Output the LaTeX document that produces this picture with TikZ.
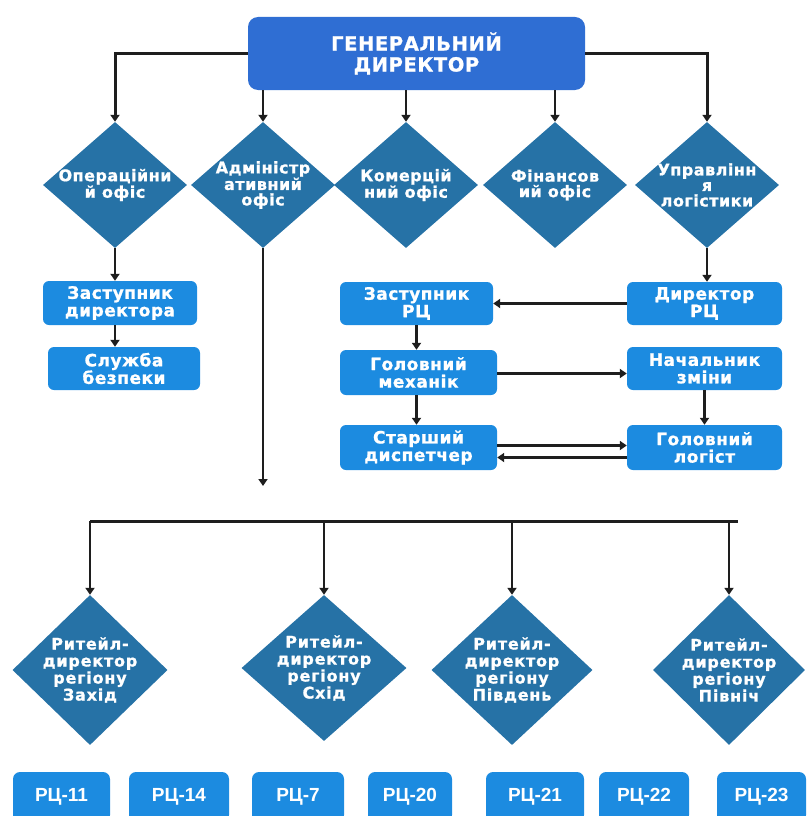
\documentclass[tikz,border=0pt]{standalone}
\usepackage{fontspec}
\setmainfont{DejaVu Sans}
\newfontfamily\rcfont{Liberation Sans}
\usetikzlibrary{arrows.meta,shapes.geometric}

\definecolor{topblue}{HTML}{2F6ED3}
\definecolor{boxblue}{HTML}{1C8BE0}
\definecolor{dmdblue}{HTML}{2672A6}
\definecolor{linegray}{HTML}{1E1E1E}

\begin{document}
\begin{tikzpicture}[x=1pt, y=-1pt,
    box/.style={rectangle, rounded corners=6pt, fill=boxblue, text=white, align=center, inner sep=0pt,
      font=\bfseries\fontsize{17}{17.5}\selectfont\addfontfeatures{LetterSpace=3,FakeBold=1}},
    dmd/.style={diamond, fill=dmdblue, inner sep=0pt, minimum width=144pt, minimum height=126pt},
    dtxt/.style={text=white, align=center, inner sep=0pt,
      font=\bfseries\fontsize{16}{15.5}\selectfont\addfontfeatures{LetterSpace=3,FakeBold=1}},
    btxt/.style={dtxt, font=\bfseries\fontsize{16}{17}\selectfont\addfontfeatures{LetterSpace=5,FakeBold=1}},
    rc/.style={rectangle, rounded corners=7pt, fill=boxblue, text=white, minimum height=50pt, inner sep=0pt,
      font=\rcfont\bfseries\fontsize{19}{19}\selectfont},
    arr/.style={-{Triangle[length=7pt,width=9pt]}, line width=2.5pt, draw=linegray}]
  \clip (0,0) rectangle (806,816);

  \node[rectangle, rounded corners=10pt, fill=topblue, text=white, align=center, minimum width=337pt,
    minimum height=73pt, font=\bfseries\fontsize{19.5}{21}\selectfont\addfontfeatures{LetterSpace=3,FakeBold=1}]
    (gd) at (416.5,53.5) {ГЕНЕРАЛЬНИЙ\\ДИРЕКТОР};

  \node[dmd, label={[dtxt]center:{Операційни\\й офіс}}] (ops) at (115,185) {};
  \node[dmd, label={[dtxt]center:{Адміністр\\ативний\\офіс}}] (adm) at (263,185) {};
  \node[dmd, label={[dtxt]center:{Комерцій\\ний офіс}}] (com) at (406,185) {};
  \node[dmd, label={[dtxt]center:{Фінансов\\ий офіс}}] (fin) at (555,185) {};
  \node[dmd, label={[dtxt]center:{Управлінн\\я\\логістики}}] (lgs) at (707,185) {};

  \node[box, minimum width=154pt, minimum height=44pt] (zdir) at (120,303) {Заступник\\директора};
  \node[box, minimum width=152pt, minimum height=43pt] (sb) at (124,368.5) {Служба\\безпеки};

  \node[box, minimum width=153pt, minimum height=43pt] (zrc) at (416.5,303.5) {Заступник\\РЦ};
  \node[box, minimum width=155pt, minimum height=43pt] (drc) at (704.5,303.5) {Директор\\РЦ};
  \node[box, minimum width=157pt, minimum height=45pt] (gm) at (418.5,372.5) {Головний\\механік};
  \node[box, minimum width=155pt, minimum height=43pt] (nz) at (704.5,368.5) {Начальник\\зміни};
  \node[box, minimum width=157pt, minimum height=45pt] (sd) at (418.5,447.5) {Старший\\диспетчер};
  \node[box, minimum width=155pt, minimum height=45pt] (gl) at (704.5,447.5) {Головний\\логіст};

  \node[dmd, minimum width=155pt, minimum height=150pt, label={[btxt]center:{Ритейл-\\директор\\регіону\\Захід}}] (rw) at (90,670) {};
  \node[dmd, minimum width=165pt, minimum height=146pt, label={[btxt]center:{Ритейл-\\директор\\регіону\\Схід}}] (re) at (324,668) {};
  \node[dmd, minimum width=161pt, minimum height=150pt, label={[btxt]center:{Ритейл-\\директор\\регіону\\Південь}}] (rs) at (512,670) {};
  \node[dmd, minimum width=152pt, minimum height=150pt, label={[btxt]center:{Ритейл-\\директор\\регіону\\Північ}}] (rn) at (729,670) {};

  \node[rc, minimum width=97pt] (rc11) at (61.5,797) {РЦ-11};
  \node[rc, minimum width=100pt] (rc14) at (179,797) {РЦ-14};
  \node[rc, minimum width=92pt] (rc7) at (298,797) {РЦ-7};
  \node[rc, minimum width=84pt] (rc20) at (410,797) {РЦ-20};
  \node[rc, minimum width=98pt] (rc21) at (535,797) {РЦ-21};
  \node[rc, minimum width=90pt] (rc22) at (644,797) {РЦ-22};
  \node[rc, minimum width=89pt] (rc23) at (761.5,797) {РЦ-23};

  \coordinate (admEnd) at (263,486);
  \coordinate (busW) at (90,521);
  \coordinate (busE) at (738,521);

  \draw[arr, line width=3pt] (gd.west) -| (ops.north);
  \draw[arr, line width=3pt] (gd.east) -| (lgs.north);
  \draw[arr] (adm.north |- gd.south) -- (adm.north);
  \draw[arr] (com.north |- gd.south) -- (com.north);
  \draw[arr] (fin.north |- gd.south) -- (fin.north);

  \draw[arr] (ops.south) -- (ops.south |- zdir.north);
  \draw[arr] (zdir.south -| ops.south) -- (ops.south |- sb.north);
  \draw[arr] (adm.south) -- (admEnd);

  \draw[arr] (lgs.south) -- (lgs.south |- drc.north);
  \draw[arr] (drc.west) -- (zrc.east);
  \draw[arr] (zrc.south) -- (zrc.south |- gm.north);
  \draw[arr] ([yshift=-1pt]gm.east) -- ([yshift=-1pt]gm.east -| nz.west);
  \draw[arr] (zrc.south |- gm.south) -- (zrc.south |- sd.north);
  \draw[arr] (nz.south) -- (gl.north);
  \draw[arr] ([yshift=2pt]sd.east) -- ([yshift=2pt]gl.west);
  \draw[arr] ([yshift=-10pt]gl.west) -- ([yshift=-10pt]sd.east);

  \draw[line width=3pt, draw=linegray] (busW) -- (busE);
  \draw[arr] (busW) -- (rw.north);
  \draw[arr] (re.north |- busW) -- (re.north);
  \draw[arr] (rs.north |- busW) -- (rs.north);
  \draw[arr] (rn.north |- busW) -- (rn.north);
\end{tikzpicture}
\end{document}
